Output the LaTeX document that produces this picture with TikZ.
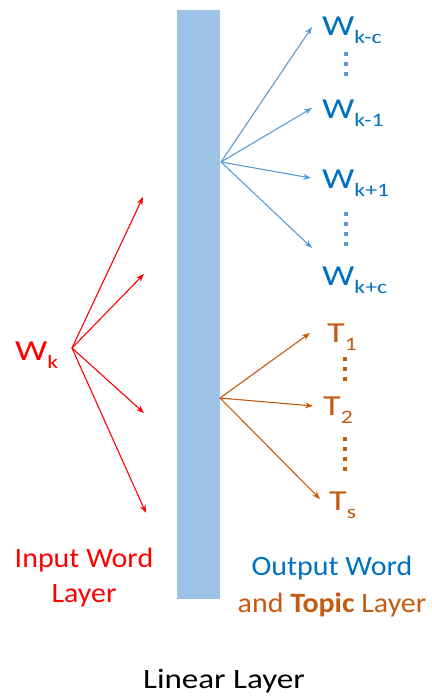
\documentclass[tikz,border=0pt]{standalone}
\usepackage{fontspec}
\setmainfont{Carlito}
\usetikzlibrary{arrows.meta}
\definecolor{barblue}{HTML}{9DC3E6}
\definecolor{arrblue}{HTML}{5B9BD5}
\definecolor{txtblue}{HTML}{0070C0}
\definecolor{orng}{HTML}{C55A11}
\definecolor{redc}{HTML}{FF0000}
\newcommand{\sx}[1]{\scalebox{1.18}[1]{#1}}
\newcommand{\capsx}[1]{\scalebox{1.07}[1]{#1}}
\newcommand{\wlab}[2]{\scalebox{1.25}[1]{#1{\fontsize{19}{19}\selectfont\raisebox{-8pt}{#2}}}}
\tikzset{
  lab/.style={anchor=base west, inner sep=0pt, font=\fontsize{29}{29}\selectfont},
  bigi/.style={inner sep=0pt, font=\fontsize{28}{35}\selectfont, align=center},
  bigo/.style={inner sep=0pt, font=\fontsize{28}{37}\selectfont, align=center},
  arr/.style={-{Stealth[length=8pt,width=6pt]}, line width=1.1pt},
  dots/.style={line width=4pt, dash pattern=on 3.5pt off 6.5pt},
}
\begin{document}
\begin{tikzpicture}[x=1pt,y=-1pt]
\useasboundingbox (0,0) rectangle (431,696);
\fill[barblue] (177,10) rectangle (220,599);
% blue outputs
\coordinate (bo) at (221,162);
\coordinate (b1) at (312,27);
\coordinate (b2) at (312,108);
\coordinate (b3) at (311,178);
\coordinate (b4) at (312,248);
\node[lab,txtblue] (wkc) at (322,35) {\wlab{W}{k-c}};
\node[lab,txtblue] (wk1) at (322,118) {\wlab{W}{k-1}};
\node[lab,txtblue] (wkp1) at (322,188) {\wlab{W}{k+1}};
\node[lab,txtblue] (wkpc) at (322,285) {\wlab{W}{k+c}};
\foreach \t in {b1,b2,b3,b4} \draw[arr,arrblue] (bo) -- (\t);
\coordinate (bd1a) at (346,52); \coordinate (bd1b) at (346,76);
\coordinate (bd2a) at (346,212); \coordinate (bd2b) at (346,249);
\draw[dots,arrblue] (bd1a) -- (bd1b);
\draw[dots,arrblue] (bd2a) -- (bd2b);
% orange outputs
\coordinate (oo) at (220,398);
\coordinate (o1) at (310,333);
\coordinate (o2) at (313,406);
\coordinate (o3) at (320,499);
\foreach \t in {o1,o2,o3} \draw[arr,orng] (oo) -- (\t);
\node[lab,orng] (t1) at (327,342) {\wlab{T}{1}};
\node[lab,orng] (t2) at (323,415) {\wlab{T}{2}};
\node[lab,orng] (ts) at (329,510) {\wlab{T}{s}};
\coordinate (od1a) at (345,357); \coordinate (od1b) at (345,383);
\coordinate (od2a) at (345,437); \coordinate (od2b) at (345,474);
\draw[dots,orng] (od1a) -- (od1b);
\draw[dots,orng] (od2a) -- (od2b);
% red inputs
\coordinate (ro) at (72,348);
\coordinate (r1) at (143,197);
\coordinate (r2) at (144,274);
\coordinate (r3) at (144,413);
\coordinate (r4) at (146,513);
\foreach \t in {r1,r2,r3,r4} \draw[arr,redc] (ro) -- (\t);
\node[lab,redc] (wk) at (15,360) {\wlab{W}{k}};
% captions
\node[bigi,redc] (inp) at (84,578) {\capsx{Input Word}\\\capsx{Layer}};
\node[bigo] (outp) at (332,587) {\textcolor{txtblue}{\capsx{Output Word}}\\\textcolor{orng}{\capsx{and \textbf{Topic} Layer}}};
\node[bigi] (lin) at (224,681) {\sx{Linear Layer}};
\end{tikzpicture}
\end{document}
